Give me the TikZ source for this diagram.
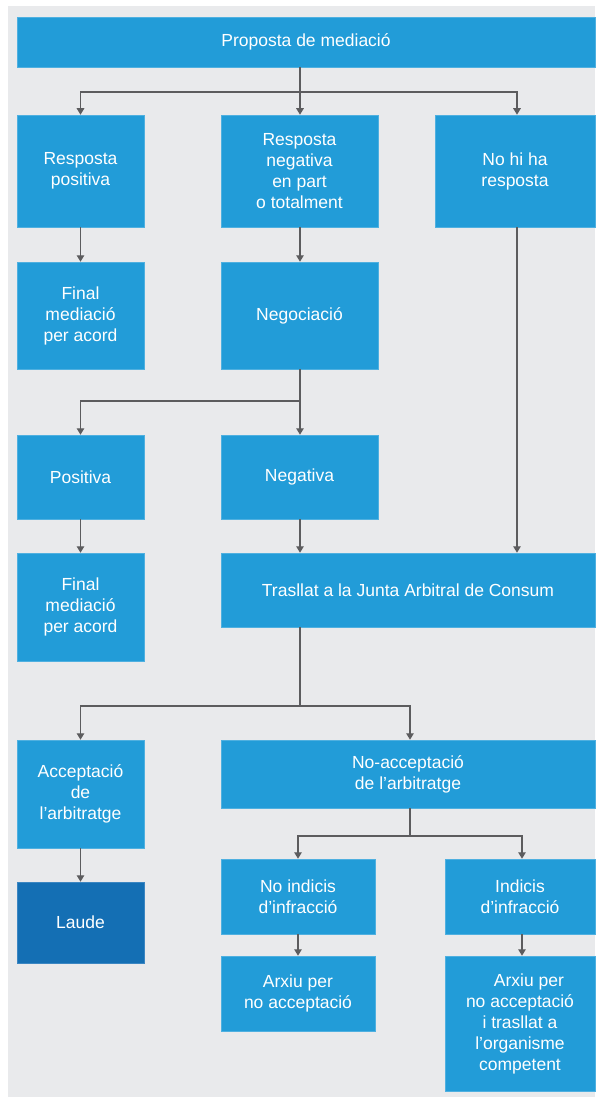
\documentclass[tikz,border=0pt]{standalone}
\usepackage{fontspec}
\setmainfont{Liberation Sans}
\usetikzlibrary{arrows.meta,calc}
\definecolor{panel}{HTML}{E9EAEC}
\definecolor{boxblue}{HTML}{229CD8}
\definecolor{boxedge}{HTML}{4FB0E0}
\definecolor{darkblue}{HTML}{146FB4}
\definecolor{darkedge}{HTML}{3B86C2}
\definecolor{linegray}{HTML}{5C5C5E}
\tikzset{
  box/.style={fill=boxblue, draw=boxedge, line width=0.5pt, text=white,
    align=center, inner sep=0pt,
    font=\fontsize{17.5}{21}\selectfont},
  finalbox/.style={box, fill=darkblue, draw=darkedge},
  conn/.style={draw=linegray, line width=1.3pt},
  arr/.style={conn, -{Triangle[length=6.5pt,width=7.5pt]}},
}
\begin{document}
\begin{tikzpicture}[x=1pt,y=-1pt]
\useasboundingbox (0,0) rectangle (595,1097);
\fill[white] (0,0) rectangle (595,1097);
\fill[panel] (8,6) rectangle (595,1097);

% boxes
\node[box, minimum width=578, minimum height=50] (top) at (306,42) {Proposta de mediació};
\node[box, minimum width=127, minimum height=112] (rp) at (80.5,171) {Resposta\\positiva};
\node[box, minimum width=157, minimum height=112] (rn) at (299.5,171) {Resposta\\negativa\\en part\\o totalment};
\node[box, minimum width=160, minimum height=112] (nr) at (515,171) {No hi ha\\resposta};
\node[box, minimum width=127, minimum height=107] (f1) at (80.5,315.5) {Final\\mediació\\per acord};
\node[box, minimum width=157, minimum height=107] (neg) at (299.5,315.5) {Negociació};
\node[box, minimum width=127, minimum height=84] (pos) at (80.5,477) {Positiva};
\node[box, minimum width=157, minimum height=84] (ng) at (299.5,477) {Negativa};
\node[box, minimum width=127, minimum height=108] (f2) at (80.5,607) {Final\\mediació\\per acord};
\node[box, minimum width=374, minimum height=74] (tr) at (408,590) {Trasllat a la Junta Arbitral de Consum};
\node[box, minimum width=127, minimum height=108] (acc) at (80.5,794) {Acceptació\\de\\l’arbitratge};
\node[box, minimum width=374, minimum height=68] (noacc) at (408,774) {No-acceptació\\de l’arbitratge};
\node[finalbox, minimum width=127, minimum height=81] (laude) at (80.5,922.5) {Laude};
\node[box, minimum width=154, minimum height=75] (ni) at (298,896.5) {No indicis\\d’infracció};
\node[box, minimum width=150, minimum height=75] (ind) at (520,896.5) {Indicis\\d’infracció};
\node[box, minimum width=154, minimum height=75] (a1) at (298,993.5) {Arxiu per\\no acceptació};
\node[box, minimum width=150, minimum height=135] (a2) at (520,1023.5) {\hspace*{18pt}Arxiu per\\no acceptació\\i trasllat a\\l’organisme\\competent};

% junction points
\coordinate (j1) at (300,92);
\coordinate (j2) at (300,401);
\coordinate (j3) at (300,706);
\coordinate (j4) at (410,836);

% connectors
\draw[conn] (top.south -| j1) -- (j1);
\draw[arr] (j1) -| (rp.north);
\draw[arr] (j1) -- (j1 |- rn.north);
\draw[arr] (j1) -| ($(nr.north)+(2,0)$);

\draw[arr] (rp.south) -- (f1.north);
\draw[arr] (rn.south -| j1) -- (neg.north -| j1);

\draw[conn] (neg.south -| j2) -- (j2);
\draw[arr] (j2) -| (pos.north);
\draw[arr] (j2) -- (j2 |- ng.north);
\draw[arr] (pos.south) -- (f2.north);

\draw[arr] (ng.south -| j2) -- (tr.north -| j2);
\draw[arr] ($(nr.south)+(2,0)$) -- ($(nr.south |- tr.north)+(2,0)$);

\draw[conn] (tr.south -| j3) -- (j3);
\draw[arr] (j3) -| (acc.north);
\draw[arr] (j3) -| (noacc.north -| j4);
\draw[arr] (acc.south) -- (laude.north);

\draw[conn] (noacc.south -| j4) -- (j4);
\draw[arr] (j4) -| (ni.north);
\draw[arr] (j4) -| ($(ind.north)+(2,0)$);
\draw[arr] (ni.south) -- (a1.north);
\draw[arr] ($(ind.south)+(2,0)$) -- ($(a2.north)+(2,0)$);
\end{tikzpicture}
\end{document}
